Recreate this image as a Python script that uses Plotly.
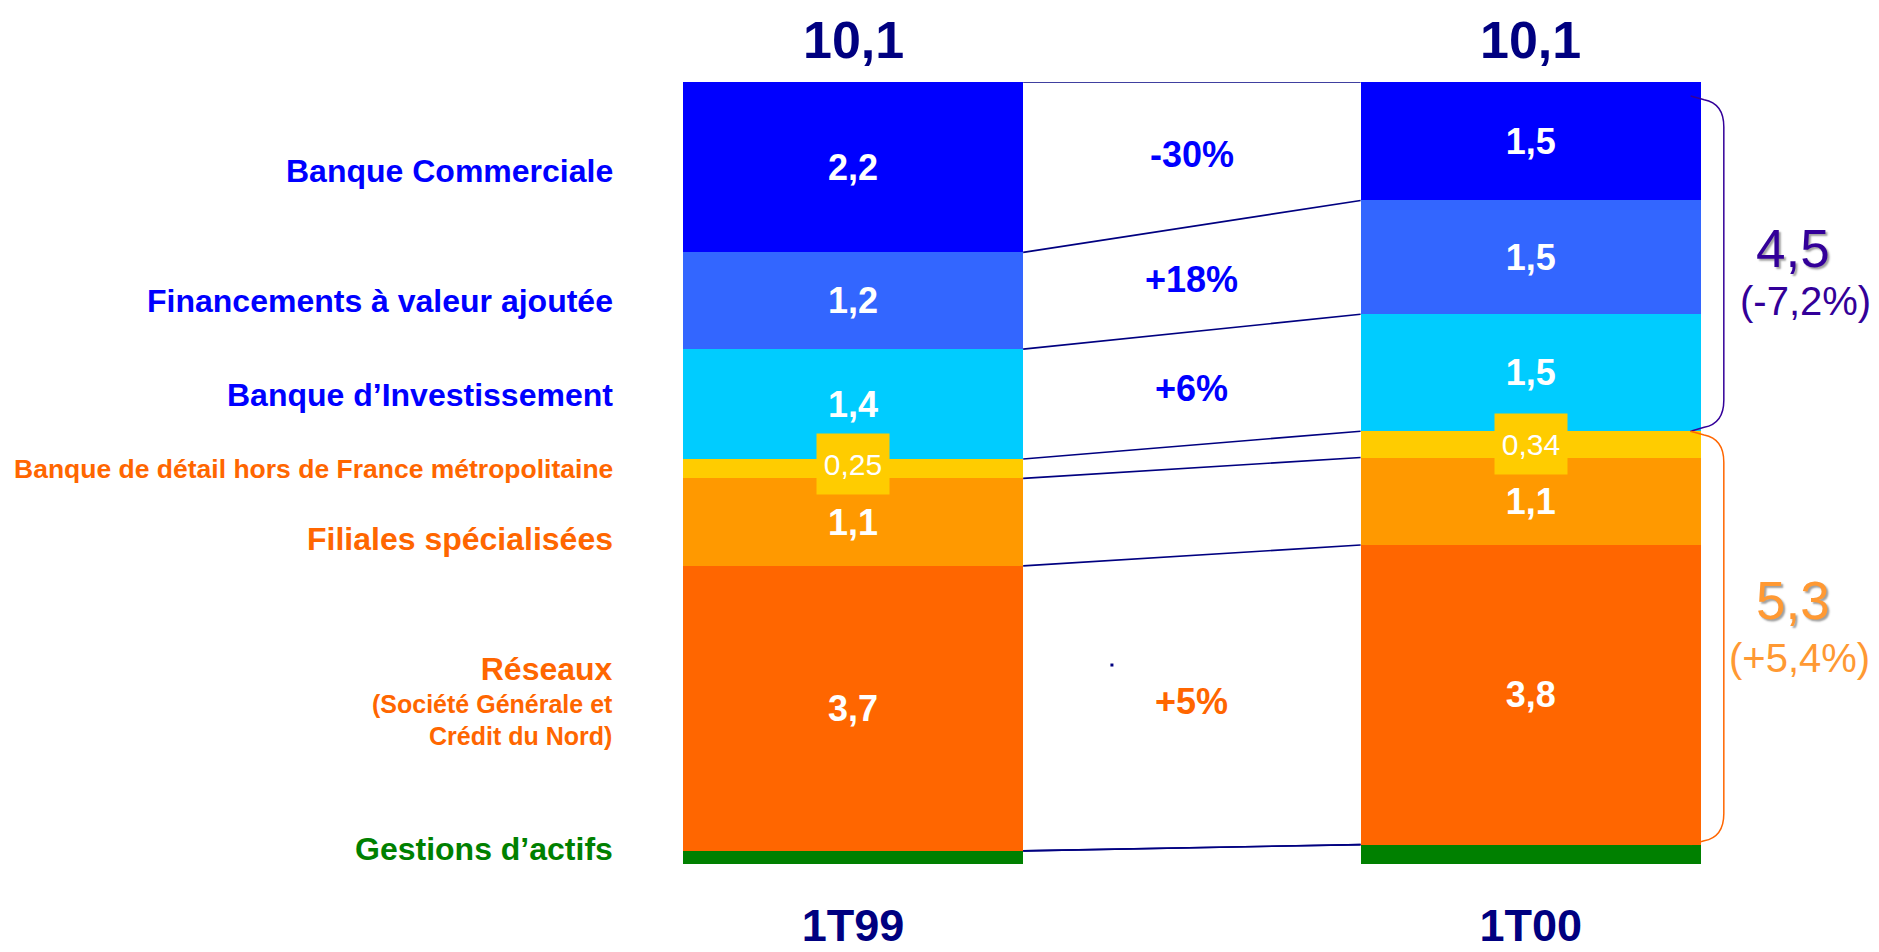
import numpy as np
import plotly.graph_objects as go

# periods on the x axis
periods = ["1T99", "1T00"]

# business lines, listed from the top of the stack to the bottom
lines = ["Banque Commerciale", "Financements à valeur ajoutée", "Banque d’Investissement",
         "Banque de détail hors de France métropolitaine", "Filiales spécialisées",
         "Réseaux", "Gestions d’actifs"]

# segment heights (same top -> bottom order)
val_1t99 = [2.20, 1.25, 1.42, 0.25, 1.13, 3.68, 0.17]
val_1t00 = [1.53, 1.47, 1.51, 0.34, 1.13, 3.87, 0.25]

# printed labels
lbl_1t99 = ["2,2", "1,2", "1,4", "0,25", "1,1", "3,7", ""]
lbl_1t00 = ["1,5", "1,5", "1,5", "0,34", "1,1", "3,8", ""]
change = ["-30%", "+18%", "+6%", "", "", "+5%", ""]
totals = ["10,1", "10,1"]
group_blue = ["4,5", "(-7,2%)"]
group_orange = ["5,3", "(+5,4%)"]

# stray dot on the slide
dot_x = [0.382]
dot_y = [2.57]

colors = ["#0000FF", "#3366FF", "#00CCFF", "#FFCC00", "#FF9900", "#FF6600", "#008000"]
text_colors = ["#0000FF", "#0000FF", "#0000FF", "#FF6600", "#FF6600", "#FF6600", "#008000"]
navy = "#000080"
W = 0.502  # bar width

left = np.array(val_1t99)
right = np.array(val_1t00)
tot_l, tot_r = left.sum(), right.sum()
# top of every segment, top -> bottom
top_l = tot_l - np.concatenate([[0], np.cumsum(left)[:-1]])
top_r = tot_r - np.concatenate([[0], np.cumsum(right)[:-1]])
mid_l = top_l - left / 2
mid_r = top_r - right / 2

fig = go.Figure()

# stacked bars (plotly stacks the first trace at the bottom)
for i in reversed(range(len(lines))):
    txt = ["", ""] if i == 3 else [lbl_1t99[i], lbl_1t00[i]]
    fig.add_trace(go.Bar(x=[0, 1], y=[val_1t99[i], val_1t00[i]], width=W, name=lines[i],
                         marker=dict(color=colors[i], line=dict(width=0)),
                         text=txt, textposition="inside", insidetextanchor="middle", textangle=0,
                         textfont=dict(color="white", size=36, family="Arial", weight="bold"),
                         hoverinfo="skip", showlegend=False))

# connector lines between the two bars
xs, ys = [], []
for a, b in zip(list(top_l) + [left[-1]], list(top_r) + [right[-1]]):
    xs += [W / 2, 1 - W / 2, None]
    ys += [a, b, None]
fig.add_trace(go.Scatter(x=xs, y=ys, mode="lines", line=dict(color=navy, width=1.6),
                         hoverinfo="skip", showlegend=False))

fig.add_trace(go.Scatter(x=dot_x, y=dot_y, mode="markers",
                         marker=dict(color=navy, size=3, symbol="square"),
                         hoverinfo="skip", showlegend=False))

ann = []
# totals above bars
for k, t in enumerate(totals):
    ann.append(dict(x=k, y=[tot_l, tot_r][k], text=t, showarrow=False, yshift=42,
                    font=dict(size=52, color=navy, family="Arial", weight="bold")))

# small segment boxes
ann.append(dict(x=0, y=mid_l[3], text=lbl_1t99[3], showarrow=False, yshift=5, bgcolor="#FFCC00",
                width=72, height=60, borderpad=0, font=dict(size=30, color="white", family="Arial")))
ann.append(dict(x=1, y=mid_r[3], text=lbl_1t00[3], showarrow=False, yshift=0, bgcolor="#FFCC00",
                width=72, height=60, borderpad=0, font=dict(size=30, color="white", family="Arial")))

# change labels between the bars
for i, c in enumerate(change):
    if c:
        ann.append(dict(x=0.5, y=(mid_l[i] + mid_r[i]) / 2, text=c, showarrow=False,
                        font=dict(size=36, color=text_colors[i], family="Arial", weight="bold")))

# category names on the left
name_shift = [-4, 0, 9, 0, -17, 8, 8]
for i, n in enumerate(lines):
    size = 32
    txt = n
    if i == 3:
        size = 26.5
    if i == 5:
        size = 25
        txt = "<span style='font-size:32px'>Réseaux</span><br>(Société Générale et<br>Crédit du Nord)"
    ann.append(dict(x=0, xref="paper", y=mid_l[i], text=txt, showarrow=False, xanchor="right",
                    xshift=-68, yshift=name_shift[i], align="right",
                    font=dict(size=size, color=text_colors[i], family="Arial", weight="bold")))

# brackets on the right
xe = 1 + W / 2
y_split = tot_r - right[:3].sum()


def bracket(yt, yb):
    x0, x1, r = xe - 0.015, xe + 0.034, 0.4
    return (f"M {x0},{yt} L {x0 + 0.02},{yt - 0.05} Q {x1},{yt - 0.1} {x1},{yt - r} "
            f"L {x1},{yb + r} Q {x1},{yb + 0.1} {x0 + 0.02},{yb + 0.05} L {x0},{yb}")


shapes = [
    dict(type="path", xref="x", yref="y", path=bracket(tot_r - 0.18, y_split),
         line=dict(color="#330099", width=1.5)),
    dict(type="path", xref="x", yref="y", path=bracket(y_split, right[-1]),
         line=dict(color="#FF6600", width=1.5)),
]

ym_b = (tot_r - 0.18 + y_split) / 2
ym_o = (y_split + right[-1]) / 2
shadow = "2px 2px 2px #A0A0A0"
ann.append(dict(x=1.387, y=ym_b, text=group_blue[0], showarrow=False, yshift=15,
                font=dict(size=53, color="#330099", family="Arial", shadow=shadow)))
ann.append(dict(x=1.405, y=ym_b, text=group_blue[1], showarrow=False, yshift=-37,
                font=dict(size=40, color="#330099", family="Arial")))
ann.append(dict(x=1.387, y=ym_o, text=group_orange[0], showarrow=False, yshift=37,
                font=dict(size=53, color="#FF9933", family="Arial", shadow=shadow)))
ann.append(dict(x=1.396, y=ym_o, text=group_orange[1], showarrow=False, yshift=-20,
                font=dict(size=40, color="#FF9933", family="Arial")))

fig.update_layout(
    width=1879, height=952, barmode="stack", showlegend=False,
    margin=dict(l=683, r=0, t=82, b=88),
    plot_bgcolor="white", paper_bgcolor="white",
    xaxis=dict(range=[-W / 2, 1.514], tickvals=[0, 1], ticktext=periods, showgrid=False,
               zeroline=False, showline=False, ticks="", automargin=False, ticklabelstandoff=31,
               tickfont=dict(size=45, color=navy, family="Arial", weight="bold")),
    yaxis=dict(range=[0, max(tot_l, tot_r)], visible=False, automargin=False),
    annotations=ann, shapes=shapes,
)

# drop the browser's default page margin so the figure sits at the window corner
fig.write_html("out.html", config={"displayModeBar": False},
               post_script="document.body.style.margin='0px';")
